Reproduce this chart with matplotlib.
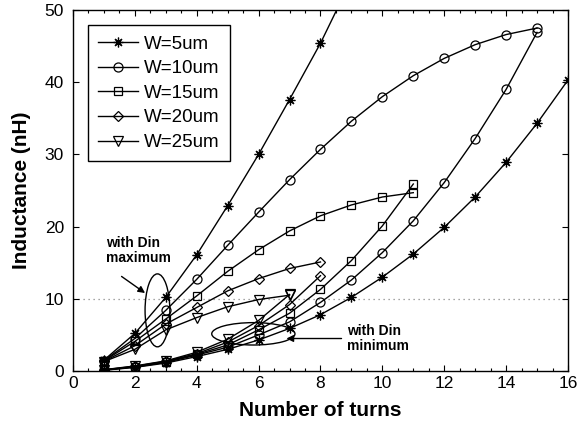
import numpy as np
import matplotlib
matplotlib.use('Agg')
import matplotlib.pyplot as plt
from matplotlib.patches import Ellipse
from matplotlib.ticker import MultipleLocator

plt.rcParams['font.family'] = ['Liberation Sans', 'DejaVu Sans']

labels = ['W=5um', 'W=10um', 'W=15um', 'W=20um', 'W=25um']
markers = [(8, 2, 0), 'o', 's', 'D', 'v']
msizes = [7, 6.5, 6, 5.5, 6.5]

# inductance (nH) vs number of turns, inner diameter at its maximum
max_turns = [list(range(1, 10)), list(range(1, 16)), list(range(1, 12)),
             list(range(1, 9)), list(range(1, 8))]
max_L = [
    [1.5, 5.2, 10.2, 16.1, 22.9, 30.0, 37.6, 45.4, 54.2],
    [1.45, 4.5, 8.4, 12.7, 17.4, 22.0, 26.5, 30.7, 34.6, 38.0, 40.9, 43.3, 45.2, 46.6, 47.5],
    [1.4, 4.1, 7.2, 10.4, 13.8, 16.8, 19.4, 21.5, 23.0, 24.1, 24.7],
    [1.35, 3.5, 6.5, 8.8, 11.1, 12.8, 14.2, 15.1],
    [1.3, 3.0, 5.7, 7.4, 8.9, 9.9, 10.5],
]

# same widths, inner diameter at its minimum
min_turns = [list(range(1, 17)), list(range(1, 16)), list(range(1, 12)),
             list(range(1, 9)), list(range(1, 8))]
min_L = [
    [0.1, 0.5, 1.1, 2.0, 3.0, 4.3, 5.9, 7.8, 10.2, 13.0, 16.2, 19.9, 24.1, 28.9, 34.3, 40.3],
    [0.12, 0.55, 1.2, 2.2, 3.3, 5.0, 6.8, 9.5, 12.6, 16.4, 20.8, 26.1, 32.2, 39.0, 46.9],
    [0.14, 0.6, 1.3, 2.3, 3.6, 5.7, 8.0, 11.3, 15.3, 20.1, 25.9],
    [0.16, 0.65, 1.35, 2.4, 4.0, 6.3, 9.2, 13.2],
    [0.18, 0.7, 1.4, 2.6, 4.4, 7.0, 10.6],
]

fig = plt.figure(figsize=(5.82, 4.26), dpi=100)
ax = fig.add_axes([0.1254, 0.1291, 0.8505, 0.8474])

ax.axhline(10, color='#888888', lw=0.9, ls=(0, (1, 3)), zorder=1)

for i in range(len(labels)):
    style = dict(color='black', lw=1.0, marker=markers[i], ms=msizes[i],
                 mfc='none', mec='black', mew=0.9, zorder=3)
    ax.plot(max_turns[i], max_L[i], label=labels[i], **style)
    ax.plot(min_turns[i], min_L[i], **style)

# groups of curves circled and labelled
ax.add_patch(Ellipse((2.73, 8.4), 0.8, 10.1, fill=False, ec='black', lw=1.0))
ax.add_patch(Ellipse((5.83, 5.15), 2.69, 3.1, fill=False, ec='black', lw=1.0))
ax.annotate('', xy=(2.33, 10.8), xytext=(1.57, 13.1),
            arrowprops=dict(arrowstyle='-|>', color='black', lw=1.0,
                            mutation_scale=10, shrinkA=0, shrinkB=0))
ax.annotate('', xy=(6.9, 4.5), xytext=(8.68, 4.5),
            arrowprops=dict(arrowstyle='-|>', color='black', lw=1.0,
                            mutation_scale=10, shrinkA=0, shrinkB=0))
ax.text(1.07, 18.7, 'with Din\nmaximum', fontsize=10, fontweight='bold',
        va='top', ha='left', linespacing=1.05)
ax.text(8.87, 6.45, 'with Din\nminimum', fontsize=10, fontweight='bold',
        va='top', ha='left', linespacing=1.05)

ax.set_xlim(0, 16)
ax.set_ylim(0, 50)
ax.xaxis.set_major_locator(MultipleLocator(2))
ax.xaxis.set_minor_locator(MultipleLocator(0.5))
ax.yaxis.set_major_locator(MultipleLocator(10))
ax.tick_params(which='both', direction='in', top=True, right=True, labelsize=12.5, width=0.8)
ax.tick_params(which='major', length=4)
ax.tick_params(which='minor', length=2.5)
ax.tick_params(axis='y', pad=6.5)
for s in ax.spines.values():
    s.set_linewidth(1.0)

ax.set_xlabel('Number of turns', fontsize=15, fontweight='bold', labelpad=7.5)
ax.set_ylabel('Inductance (nH)', fontsize=15, fontweight='bold', labelpad=10)

leg = ax.legend(loc='upper left', bbox_to_anchor=(0.03, 0.958), borderaxespad=0,
                fontsize=13.5, handlelength=2.15, labelspacing=0.4, fancybox=False,
                edgecolor='black', framealpha=1, borderpad=0.55, handletextpad=0.3)
leg.get_frame().set_linewidth(1.0)

fig.savefig('out.png', dpi=100)
